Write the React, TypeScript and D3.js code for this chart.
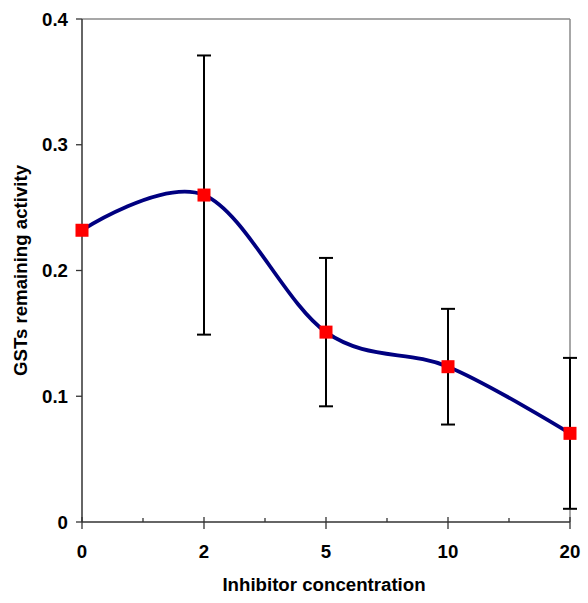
import React from "react";
import * as d3 from "d3";

const categories = ["0", "2", "5", "10", "20"];
const values = [0.232, 0.26, 0.151, 0.1235, 0.0705];
const errors = [0, 0.111, 0.059, 0.046, 0.06];
const yTicks = [0, 0.1, 0.2, 0.3, 0.4];
const yTickLabels = ["0", "0.1", "0.2", "0.3", "0.4"];
const xTitle = "Inhibitor concentration";
const yTitle = "GSTs remaining activity";

const W = 588;
const H = 603;
const left = 82;
const right = 570;
const top = 19;
const bottom = 522;
const font = "'Liberation Sans', Arial, sans-serif";
const fs = 18.67;

export default function App() {
  const x = d3.scalePoint<string>().domain(categories).range([left, right]).padding(0);
  const y = d3.scaleLinear().domain([0, 0.4]).range([bottom, top]);
  const pts: [number, number][] = categories.map((c, i) => [x(c)!, y(values[i])]);
  const line = d3.line().curve(d3.curveCardinal.tension(0))(pts) || "";
  const step = x.step();
  const minor = categories.slice(0, -1).map((c) => x(c)! + step / 2);

  return (
    <svg width={W} height={H} style={{ position: "absolute", left: 0, top: 0, background: "#fff" }}>
      <rect x={0} y={0} width={W} height={H} fill="#fff" />
      {/* plot borders */}
      <line x1={left} x2={right} y1={top} y2={top} stroke="#8a8a8a" strokeWidth={1.5} />
      <line x1={right} x2={right} y1={top} y2={bottom} stroke="#8a8a8a" strokeWidth={1.5} />
      {/* y axis */}
      <line x1={left} x2={left} y1={top} y2={bottom} stroke="#333" strokeWidth={1.5} />
      {yTicks.map((t, i) => (
        <g key={"yt" + i}>
          <line x1={left - 6} x2={left} y1={y(t)} y2={y(t)} stroke="#333" strokeWidth={1.3} />
          <text
            x={68}
            y={y(t)}
            dy="0.35em"
            textAnchor="end"
            fontFamily={font}
            fontWeight="bold"
            fontSize={fs}
            fill="#000"
          >
            {yTickLabels[i]}
          </text>
        </g>
      ))}
      {/* x axis */}
      <line x1={left} x2={right} y1={bottom} y2={bottom} stroke="#333" strokeWidth={1.5} />
      {categories.map((c) => (
        <g key={"xt" + c}>
          <line x1={x(c)} x2={x(c)} y1={bottom - 5} y2={bottom + 7} stroke="#333" strokeWidth={1.3} />
          <text
            x={x(c)}
            y={558}
            textAnchor="middle"
            fontFamily={font}
            fontWeight="bold"
            fontSize={fs}
            fill="#000"
          >
            {c}
          </text>
        </g>
      ))}
      {minor.map((m, i) => (
        <line key={"mt" + i} x1={m} x2={m} y1={bottom - 4} y2={bottom} stroke="#333" strokeWidth={1.3} />
      ))}
      {/* error bars */}
      {categories.map((c, i) =>
        errors[i] > 0 ? (
          <g key={"eb" + c} stroke="#000" strokeWidth={2}>
            <line x1={x(c)} x2={x(c)} y1={y(values[i] + errors[i])} y2={y(values[i] - errors[i])} />
            <line x1={x(c)! - 7} x2={x(c)! + 7} y1={y(values[i] + errors[i])} y2={y(values[i] + errors[i])} />
            <line x1={x(c)! - 7} x2={x(c)! + 7} y1={y(values[i] - errors[i])} y2={y(values[i] - errors[i])} />
          </g>
        ) : null
      )}
      {/* line */}
      <path d={line} fill="none" stroke="#000080" strokeWidth={3.8} />
      {/* markers */}
      {pts.map((p, i) => (
        <rect key={"m" + i} x={p[0] - 6.5} y={p[1] - 6.5} width={13} height={13} fill="#ff0000" />
      ))}
      {/* titles */}
      <text
        x={324}
        y={591}
        textAnchor="middle"
        fontFamily={font}
        fontWeight="bold"
        fontSize={fs}
        fill="#000"
      >
        {xTitle}
      </text>
      <text
        transform={`translate(27, ${(top + bottom) / 2}) rotate(-90)`}
        textAnchor="middle"
        fontFamily={font}
        fontWeight="bold"
        fontSize={fs}
        fill="#000"
      >
        {yTitle}
      </text>
    </svg>
  );
}
